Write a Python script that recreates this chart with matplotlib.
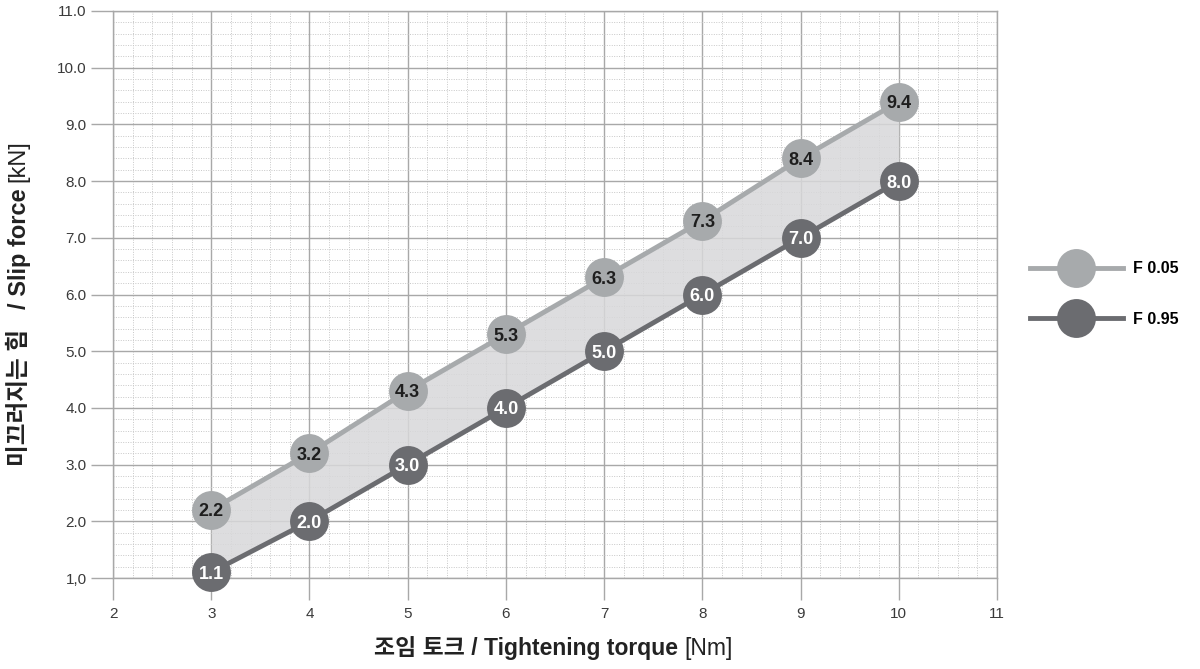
import matplotlib
matplotlib.use("Agg")
import matplotlib.pyplot as plt
from matplotlib.lines import Line2D
from matplotlib.ticker import MultipleLocator

plt.rcParams['font.family'] = ['Liberation Sans', 'Noto Sans CJK KR', 'DejaVu Sans']

torque = [3, 4, 5, 6, 7, 8, 9, 10]
f005 = [2.2, 3.2, 4.3, 5.3, 6.3, 7.3, 8.4, 9.4]
f095 = [1.1, 2.0, 3.0, 4.0, 5.0, 6.0, 7.0, 8.0]
series_names = ["F 0.05", "F 0.95"]
x_ticks = [2, 3, 4, 5, 6, 7, 8, 9, 10, 11]
y_ticks = [1, 2, 3, 4, 5, 6, 7, 8, 9, 10, 11]
y_tick_labels = ["1,0", "2.0", "3.0", "4.0", "5.0", "6.0", "7.0", "8.0", "9.0", "10.0", "11.0"]

light = '#a7aaac'
dark = '#6b6c70'
fill_c = '#d8d8da'
grid_c = '#a8a8a8'
ms = 28

fig = plt.figure(figsize=(12, 6.69), dpi=100)
ax = fig.add_axes([113/1200, 1 - 578/669, (997-113)/1200, (578-11)/669])

ax.set_xlim(2, 11)
ax.set_ylim(1, 11)
ax.set_xticks(x_ticks)
ax.set_yticks(y_ticks)
ax.set_yticklabels(y_tick_labels)
ax.xaxis.set_minor_locator(MultipleLocator(0.2))
ax.yaxis.set_minor_locator(MultipleLocator(0.2))

ax.grid(which='major', color=grid_c, lw=1, ls='-', zorder=1)
ax.grid(which='minor', color='#c8c8c8', lw=0.7, ls=(0, (1, 1.5)), zorder=0)
ax.set_axisbelow(True)
for s in ax.spines.values():
    s.set_color(grid_c)
    s.set_linewidth(1)

ax.tick_params(which='major', length=16, width=1, color=grid_c, labelsize=11,
               labelcolor='#3a3a3a', pad=3)
ax.tick_params(axis='x', pad=5)
ax.tick_params(which='minor', length=0)

ax.fill_between(torque, f095, f005, color=fill_c, alpha=0.85, lw=0, zorder=2)
ax.plot(torque, f005, color=light, lw=3.5, zorder=3, clip_on=False)
ax.plot(torque, f095, color=dark, lw=3.5, zorder=3, clip_on=False)
ax.plot(torque, f005, 'o', color=light, ms=ms, mec='none', zorder=4, clip_on=False)
ax.plot(torque, f095, 'o', color=dark, ms=ms, mec='none', zorder=4, clip_on=False)

for x, y in zip(torque, f005):
    ax.text(x, y, f"{y:.1f}", ha='center', va='center_baseline', fontsize=13,
            fontweight='bold', color='#1e1e1e', zorder=5, clip_on=False)
for x, y in zip(torque, f095):
    ax.text(x, y, f"{y:.1f}", ha='center', va='center_baseline', fontsize=13,
            fontweight='bold', color='white', zorder=5, clip_on=False)

handles = [Line2D([], [], color=light, lw=3.5, marker='o', ms=ms, mec='none'),
           Line2D([], [], color=dark, lw=3.5, marker='o', ms=ms, mec='none')]
leg = fig.legend(handles, series_names, loc='center left', bbox_to_anchor=(1030/1200, 1 - 294/669),
                 frameon=False, handlelength=5.8, handletextpad=0.63, labelspacing=2.2,
                 borderpad=0, borderaxespad=0, prop={'weight': 'bold', 'size': 11.5})

# axis labels with mixed weights
fig.canvas.draw()
r = fig.canvas.get_renderer()
t1 = fig.text(0, 0, "조임 토크 / Tightening torque ", fontsize=16.5, fontweight='bold',
              color='#222222', va='center', ha='left')
t2 = fig.text(0, 0, "[Nm]", fontsize=16.5, color='#222222', va='center', ha='left')
w1 = t1.get_window_extent(r).width
w2 = t2.get_window_extent(r).width
x0 = 553 - (w1 + w2) / 2
t1.set_position((x0 / 1200, 1 - 648/669))
t2.set_position(((x0 + w1) / 1200, 1 - 648/669))

u1 = fig.text(18/1200, 0, "미끄러지는 힘   / Slip force ", fontsize=17, fontweight='bold',
              color='#222222', rotation=90, ha='center', va='bottom')
u2 = fig.text(18/1200, 0, "[kN]", fontsize=17, color='#222222', rotation=90,
              ha='center', va='bottom')
h1 = u1.get_window_extent(r).height
h2 = u2.get_window_extent(r).height
yc = 669 - 303
y0 = yc - (h1 + h2) / 2
u1.set_y(y0 / 669)
u2.set_y((y0 + h1) / 669)

fig.savefig("out.png", dpi=100)
